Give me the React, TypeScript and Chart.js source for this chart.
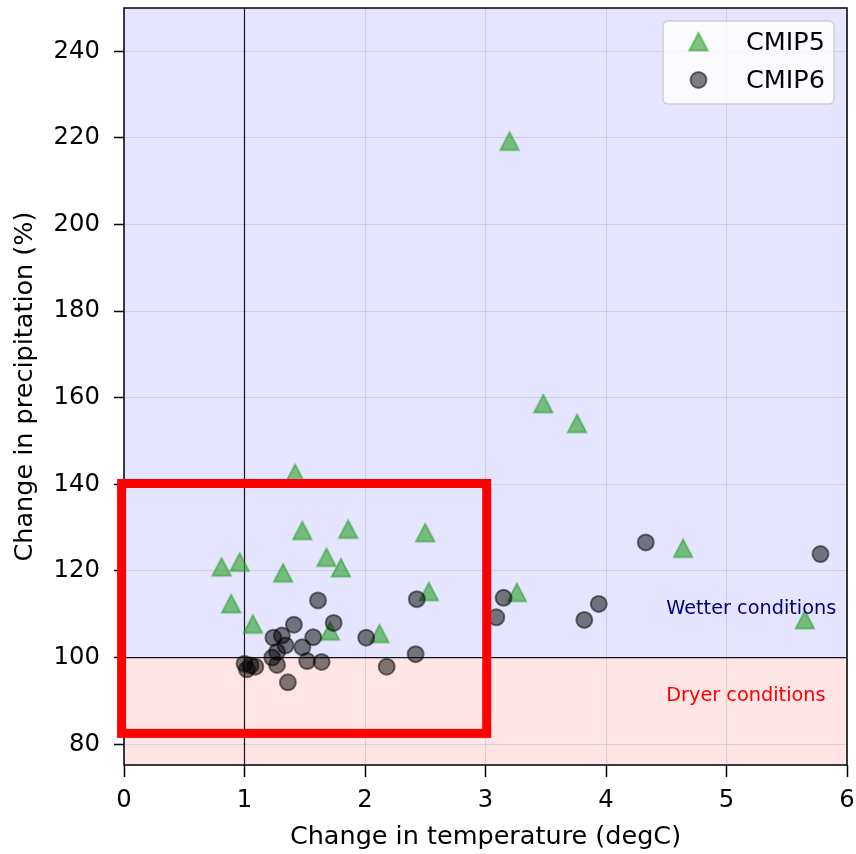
import React, { useEffect, useRef } from "react";
import { Chart, registerables } from "chart.js";

Chart.register(...registerables);

// ---- Data ----
const cmip5Temp = [3.2, 3.48, 3.76, 1.42, 1.48, 1.86, 2.5, 1.68, 1.8, 1.32, 0.81, 0.96, 0.89, 1.07, 1.71, 2.12, 2.53, 3.26, 4.64, 5.65];
const cmip5Precip = [219.2, 158.6, 154.0, 142.5, 129.3, 129.6, 128.8, 123.1, 120.7, 119.5, 120.9, 122.0, 112.4, 107.7, 106.1, 105.5, 115.2, 115.0, 125.2, 108.7];

const cmip6Temp = [4.33, 5.78, 1.61, 2.43, 3.15, 3.94, 3.09, 3.82, 1.74, 1.41, 1.57, 2.01, 1.24, 1.31, 1.34, 1.48, 1.27, 1.23, 2.42, 1.27, 1.52, 1.64, 2.18, 1.36, 1.0, 1.05, 1.09, 1.02];
const cmip6Precip = [126.6, 123.9, 113.2, 113.5, 113.8, 112.4, 109.3, 108.7, 108.0, 107.6, 104.7, 104.6, 104.6, 105.1, 102.8, 102.4, 101.3, 100.0, 100.8, 98.3, 99.2, 99.0, 97.9, 94.3, 98.6, 98.2, 97.9, 97.3];

const seriesLabels = ["CMIP5", "CMIP6"];
const xTicks = [0, 1, 2, 3, 4, 5, 6];
const yTicks = [80, 100, 120, 140, 160, 180, 200, 220, 240];
const xRange = [0, 6];
const yRange = [75.2, 250];
const baselineTemp = 1;
const baselinePrecip = 100;
const highlightX = [-0.02, 3.01];
const highlightY = [82.5, 140.2];
const noteLabels = ["Wetter conditions", "Dryer conditions"];
const noteX = [4.5, 4.5];
const noteY = [110, 90];
const noteColors = ["navy", "red"];
const xTitle = "Change in temperature (degC)";
const yTitle = "Change in precipitation (%)";

const FONT = '"DejaVu Sans", "Noto Sans", sans-serif';
const TICK_SIZE = 24.3;
const TITLE_SIZE = 25.5;

function makeTriangle(): HTMLCanvasElement {
  const c = document.createElement("canvas");
  c.width = 24;
  c.height = 24;
  const g = c.getContext("2d")!;
  g.beginPath();
  g.moveTo(12, 3);
  g.lineTo(2.8, 20.5);
  g.lineTo(21.2, 20.5);
  g.closePath();
  g.fillStyle = "rgba(44,160,44,0.6)";
  g.fill();
  g.lineWidth = 1.8;
  g.strokeStyle = "rgba(44,160,44,0.6)";
  g.stroke();
  return c;
}

export default function App() {
  const ref = useRef<HTMLCanvasElement>(null);

  useEffect(() => {
    const canvas = ref.current!;
    const tri = makeTriangle();

    const decor = {
      id: "decor",
      beforeDraw(chart: any) {
        const { ctx, chartArea: ca, scales } = chart;
        const y = scales.y;
        const yb = y.getPixelForValue(baselinePrecip);
        ctx.save();
        ctx.fillStyle = "#ffffff";
        ctx.fillRect(0, 0, chart.width, chart.height);
        ctx.fillStyle = "rgba(0,0,255,0.1)";
        ctx.fillRect(ca.left, ca.top, ca.right - ca.left, yb - ca.top);
        ctx.fillStyle = "rgba(255,0,0,0.1)";
        ctx.fillRect(ca.left, yb, ca.right - ca.left, ca.bottom - yb);
        ctx.restore();
      },
      beforeDatasetsDraw(chart: any) {
        const { ctx, chartArea: ca, scales } = chart;
        const xb = scales.x.getPixelForValue(baselineTemp);
        const yb = scales.y.getPixelForValue(baselinePrecip);
        ctx.save();
        ctx.strokeStyle = "rgba(0,0,0,0.9)";
        ctx.lineWidth = 1.2;
        ctx.beginPath();
        ctx.moveTo(xb, ca.top);
        ctx.lineTo(xb, ca.bottom);
        ctx.moveTo(ca.left, yb);
        ctx.lineTo(ca.right, yb);
        ctx.stroke();
        ctx.restore();
      },
      afterDatasetsDraw(chart: any) {
        const { ctx, chartArea: ca, scales } = chart;
        const x = scales.x;
        const y = scales.y;
        ctx.save();
        // annotations
        ctx.font = `19.3px ${FONT}`;
        ctx.textAlign = "left";
        ctx.textBaseline = "alphabetic";
        noteLabels.forEach((t, i) => {
          ctx.fillStyle = noteColors[i];
          ctx.fillText(t, x.getPixelForValue(noteX[i]), y.getPixelForValue(noteY[i]));
        });
        // spines
        ctx.strokeStyle = "#000";
        ctx.lineWidth = 1.5;
        ctx.strokeRect(ca.left, ca.top, ca.right - ca.left, ca.bottom - ca.top);
        // legend
        const bw = 171;
        const bh = 83;
        const bx = ca.right - 13 - bw;
        const by = ca.top + 13;
        ctx.beginPath();
        ctx.roundRect(bx, by, bw, bh, 5);
        ctx.fillStyle = "rgba(255,255,255,0.8)";
        ctx.fill();
        ctx.strokeStyle = "rgba(204,204,204,0.9)";
        ctx.lineWidth = 1.5;
        ctx.stroke();
        const rows = [by + 21, by + 59];
        const mx = bx + 35.5;
        ctx.drawImage(tri, mx - 12, rows[0] - 12);
        ctx.beginPath();
        ctx.arc(mx, rows[1], 8, 0, Math.PI * 2);
        ctx.fillStyle = "rgba(0,0,0,0.5)";
        ctx.fill();
        ctx.lineWidth = 2;
        ctx.strokeStyle = "rgba(0,0,0,0.5)";
        ctx.stroke();
        ctx.fillStyle = "#000";
        ctx.font = `${TITLE_SIZE}px ${FONT}`;
        ctx.textBaseline = "middle";
        seriesLabels.forEach((t, i) => ctx.fillText(t, bx + 83, rows[i] + 1));
        // highlight rectangle
        const x1 = x.getPixelForValue(highlightX[0]);
        const x2 = x.getPixelForValue(highlightX[1]);
        const y1 = y.getPixelForValue(highlightY[1]);
        const y2 = y.getPixelForValue(highlightY[0]);
        ctx.strokeStyle = "#ff0000";
        ctx.lineWidth = 9;
        ctx.lineJoin = "miter";
        ctx.strokeRect(x1, y1, x2 - x1, y2 - y1);
        ctx.restore();
      },
    };

    const chart = new Chart(canvas, {
      type: "scatter",
      data: {
        datasets: [
          {
            label: seriesLabels[0],
            data: cmip5Temp.map((t, i) => ({ x: t, y: cmip5Precip[i] })),
            pointStyle: tri as any,
            pointRadius: 10,
            order: 1,
          },
          {
            label: seriesLabels[1],
            data: cmip6Temp.map((t, i) => ({ x: t, y: cmip6Precip[i] })),
            pointStyle: "circle",
            pointRadius: 8,
            borderWidth: 2,
            backgroundColor: "rgba(0,0,0,0.5)",
            borderColor: "rgba(0,0,0,0.5)",
            order: 0,
          },
        ],
      },
      options: {
        responsive: false,
        animation: false,
        events: [],
        layout: { padding: 0 },
        plugins: { legend: { display: false }, tooltip: { enabled: false } },
        scales: {
          x: {
            type: "linear",
            min: xRange[0],
            max: xRange[1],
            afterBuildTicks: (s: any) => {
              s.ticks = xTicks.map((v) => ({ value: v }));
            },
            afterFit: (s: any) => {
              s.height = 89;
              s.paddingLeft = 0;
              s.paddingRight = 0;
            },
            border: { display: false },
            grid: {
              color: "rgba(176,176,176,0.4)",
              lineWidth: 1,
              drawTicks: true,
              tickLength: 12,
              tickColor: "#000",
              tickWidth: 1.5,
            },
            ticks: {
              color: "#000",
              font: { family: FONT, size: TICK_SIZE },
              padding: 9,
              maxRotation: 0,
              autoSkip: false,
              callback: (v: any) => String(v),
            },
            title: {
              display: true,
              text: xTitle,
              color: "#000",
              font: { family: FONT, size: TITLE_SIZE },
              padding: { top: 0, bottom: 1 },
            },
          },
          y: {
            type: "linear",
            min: yRange[0],
            max: yRange[1],
            afterBuildTicks: (s: any) => {
              s.ticks = yTicks.map((v) => ({ value: v }));
            },
            afterFit: (s: any) => {
              s.width = 124;
              s.paddingTop = 0;
              s.paddingBottom = 0;
            },
            border: { display: false },
            grid: {
              color: "rgba(176,176,176,0.4)",
              lineWidth: 1,
              drawTicks: true,
              tickLength: 10,
              tickColor: "#000",
              tickWidth: 1.5,
            },
            ticks: {
              color: "#000",
              font: { family: FONT, size: TICK_SIZE },
              padding: 14,
              autoSkip: false,
              callback: (v: any) => String(v),
            },
            title: {
              display: true,
              text: yTitle,
              color: "#000",
              font: { family: FONT, size: TITLE_SIZE },
              padding: { top: 10, bottom: 0 },
            },
          },
        },
      },
      plugins: [decor],
    } as any);

    return () => chart.destroy();
  }, []);

  return (
    <div
      style={{
        position: "absolute",
        left: 0,
        top: 0,
        width: 856,
        height: 854,
        overflow: "hidden",
        background: "#fff",
      }}
    >
      <canvas
        ref={ref}
        width={858}
        height={857}
        style={{ display: "block", position: "absolute", left: 0, top: -3 }}
      />
    </div>
  );
}
